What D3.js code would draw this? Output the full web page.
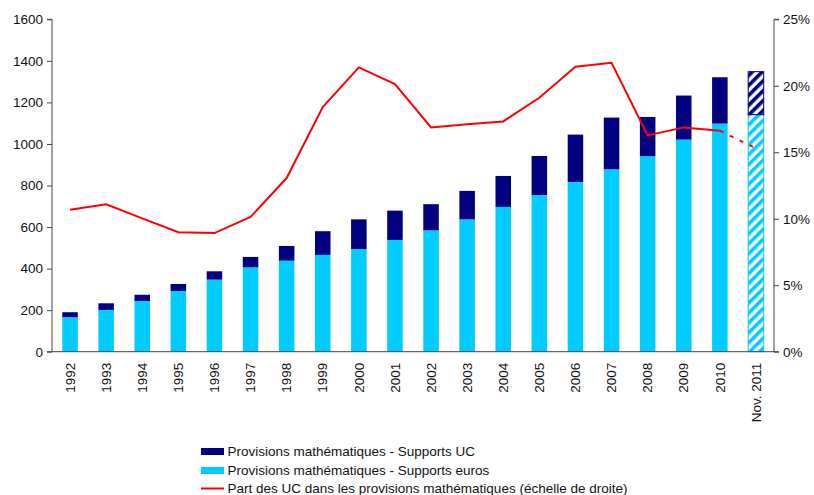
<!DOCTYPE html>
<html><head><meta charset="utf-8">
<script src="https://cdn.jsdelivr.net/npm/d3@7/dist/d3.min.js"></script>
<style>
body{margin:0;background:#fff;}
text{font-family:"Liberation Sans",Arial,sans-serif;}
</style></head>
<body><svg id="c" width="814" height="495"></svg>
<script>
const categories = ["1992","1993","1994","1995","1996","1997","1998","1999","2000","2001","2002","2003","2004","2005","2006","2007","2008","2009","2010","Nov. 2011"];
const supportsEuros = [166,201,244,292,347,406,438,466,494,538,584,637,697,754,817,878,941,1021,1098,1141];
const supportsUC = [24,32,30,34,40,50,71,114,143,141,126,137,149,188,228,249,189,212,223,207];
const partUC = [10.68,11.08,10.03,8.98,8.92,10.13,13.06,18.4,21.38,20.13,16.87,17.1,17.32,19.1,21.43,21.73,16.27,16.87,16.62,15.3];
const leftTicks = [0,200,400,600,800,1000,1200,1400,1600];
const rightTicks = [0,5,10,15,20,25];
const legendLabels = ["Provisions mathématiques - Supports UC","Provisions mathématiques - Supports euros","Part des UC dans les provisions mathématiques (échelle de droite)"];

const colUC = "#000080", colEur = "#00CCFF", colLine = "#FF0000";
const FS = 13.5;
const svg = d3.select("#c");
const L = 52, R = 774, T = 19.3, B = 351.7;

const x = d3.scaleBand().domain(categories).range([L, R]).paddingInner(0.57).paddingOuter(0.285);
const y = d3.scaleLinear().domain([0,1600]).range([B, T]);
const y2 = d3.scaleLinear().domain([0,25]).range([B, T]);

const defs = svg.append("defs");
function hatch(id, color){
  const p = defs.append("pattern").attr("id", id).attr("patternUnits","userSpaceOnUse")
    .attr("width",7).attr("height",7).attr("patternTransform","rotate(45)");
  p.append("rect").attr("width",7).attr("height",7).attr("fill","#fff");
  p.append("rect").attr("width",3.6).attr("height",7).attr("fill",color);
}
hatch("hUC", colUC); hatch("hEur", colEur);

const last = categories.length - 1;
const g = svg.append("g");
categories.forEach((c,i) => {
  const e = supportsEuros[i], u = supportsUC[i];
  const hatched = i === last;
  g.append("rect").attr("x", x(c)).attr("width", x.bandwidth())
    .attr("y", y(e)).attr("height", y(0)-y(e))
    .attr("fill", hatched ? "url(#hEur)" : colEur)
    .attr("stroke", hatched ? colEur : "none").attr("stroke-width", 1);
  g.append("rect").attr("x", x(c)).attr("width", x.bandwidth())
    .attr("y", y(e+u)).attr("height", y(e)-y(e+u))
    .attr("fill", hatched ? "url(#hUC)" : colUC)
    .attr("stroke", hatched ? colUC : "none").attr("stroke-width", 1);
});

const cx = c => x(c) + x.bandwidth()/2;
const line = d3.line().x(d => cx(d.c)).y(d => y2(d.v));
const pts = categories.map((c,i)=>({c, v: partUC[i]}));
svg.append("path").datum(pts.slice(0,last)).attr("d", line)
  .attr("fill","none").attr("stroke",colLine).attr("stroke-width",2);
svg.append("path").datum(pts.slice(last-1)).attr("d", line)
  .attr("fill","none").attr("stroke",colLine).attr("stroke-width",2).attr("stroke-dasharray","4,7");

// axes
const axL = svg.append("g").attr("transform",`translate(${L},0)`)
  .call(d3.axisLeft(y).tickValues(leftTicks).tickSize(5).tickPadding(4).tickFormat(d3.format("d")));
const axR = svg.append("g").attr("transform",`translate(${R},0)`)
  .call(d3.axisRight(y2).tickValues(rightTicks).tickSize(5).tickPadding(4).tickFormat(d => d + "%"));
const axB = svg.append("g").attr("transform",`translate(0,${B})`)
  .call(d3.axisBottom(x).tickSize(0).tickPadding(0));
[axL, axR, axB].forEach(a => {
  a.select(".domain").attr("stroke","#444").attr("stroke-width",1);
  a.selectAll(".tick line").attr("stroke","#444");
  a.selectAll("text").attr("font-size",FS).attr("fill","#111").style("font-family","'Liberation Sans',Arial,sans-serif");
});
axL.select(".domain").attr("d", `M-5,${T}H0V${B}H-5`);
axR.select(".domain").attr("d", `M5,${T}H0V${B}H5`);
axB.select(".domain").attr("d", `M${L},0H${R}`);
axB.selectAll(".tick text").attr("transform","rotate(-90)")
  .attr("text-anchor","end").attr("x",-11).attr("y",0).attr("dy","0.35em");

// legend
const lg = svg.append("g");
const ly = [451.5, 470.5, 488.5];
lg.append("rect").attr("x",201).attr("y",ly[0]-3.5).attr("width",23).attr("height",7).attr("fill",colUC);
lg.append("rect").attr("x",201).attr("y",ly[1]-3.5).attr("width",23).attr("height",7).attr("fill",colEur);
lg.append("line").attr("x1",201).attr("x2",224).attr("y1",ly[2]).attr("y2",ly[2]).attr("stroke",colLine).attr("stroke-width",2);
legendLabels.forEach((t,i)=>{
  lg.append("text").attr("x",227.5).attr("y",ly[i]).attr("dy","0.36em").attr("font-size",FS).attr("fill","#111").text(t);
});
</script></body></html>
